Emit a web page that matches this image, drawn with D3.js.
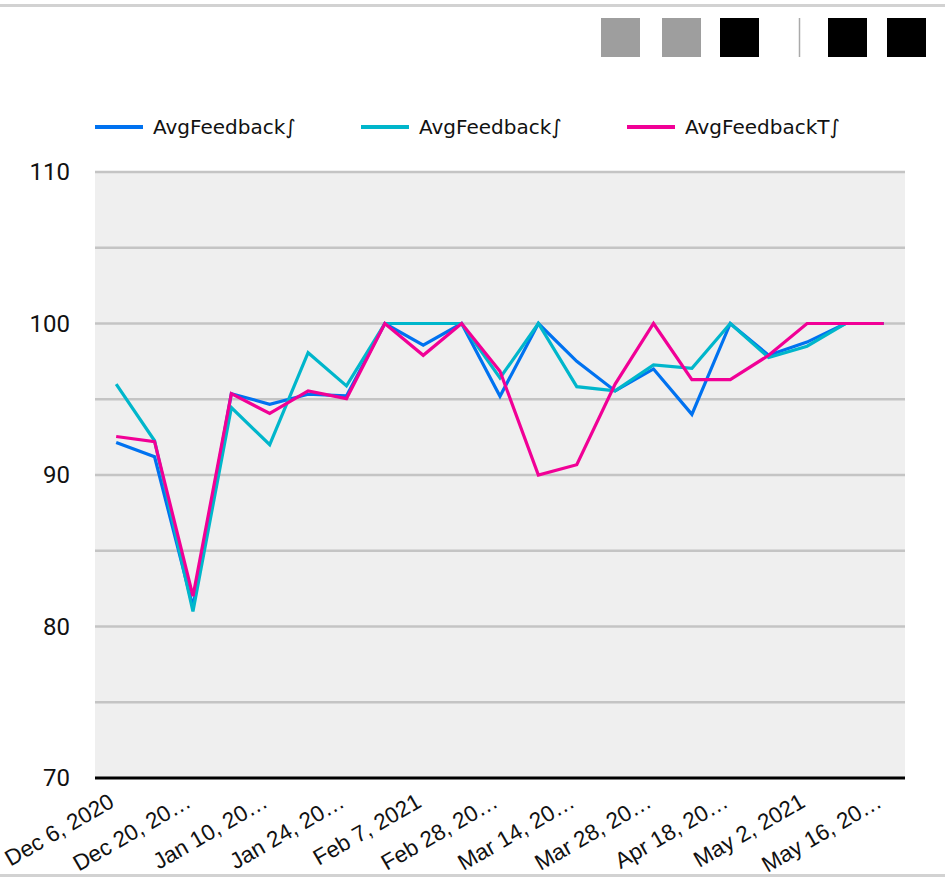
<!DOCTYPE html>
<html>
<head>
<meta charset="utf-8">
<script src="https://cdn.jsdelivr.net/npm/d3@7/dist/d3.min.js"></script>
<style>
  html, body { margin: 0; padding: 0; background: #fff; }
  svg { display: block; }
</style>
</head>
<body>
<svg id="chart" width="945" height="878"></svg>
<script>
// Weekly dates (one point per week with data)
const dates = [
  "Dec 6, 2020", "Dec 13, 2020", "Dec 20, 2020", "Jan 3, 2021", "Jan 10, 2021",
  "Jan 17, 2021", "Jan 24, 2021", "Jan 31, 2021", "Feb 7, 2021", "Feb 14, 2021",
  "Feb 28, 2021", "Mar 7, 2021", "Mar 14, 2021", "Mar 21, 2021", "Mar 28, 2021",
  "Apr 11, 2021", "Apr 18, 2021", "Apr 25, 2021", "May 2, 2021", "May 9, 2021",
  "May 16, 2021"
];

// Series values
const avgFeedbackA = [92.15, 91.2, 81.3, 95.37, 94.67, 95.33, 95.22, 100, 98.57, 100,
  95.2, 100, 97.5, 95.55, 97.0, 94.0, 100, 97.9, 98.77, 100, 100];
const avgFeedbackB = [96.0, 92.26, 81.0, 94.45, 92.0, 98.07, 95.88, 100, 100, 100,
  96.4, 100, 95.83, 95.55, 97.26, 97.04, 100, 97.76, 98.5, 100, 100];
const avgFeedbackT = [92.54, 92.2, 82.0, 95.37, 94.06, 95.55, 95.04, 100, 97.9, 100,
  96.85, 90.0, 90.68, 96.0, 100, 96.3, 96.3, 97.9, 100, 100, 100];

const seriesNames = ["AvgFeedback\u222B", "AvgFeedback\u222B", "AvgFeedbackT\u222B"];
const seriesColors = ["#0072f0", "#00b6cb", "#f10096"];

const yTicks = [70, 80, 90, 100, 110];
const yGrid = [75, 80, 85, 90, 95, 100, 105, 110];

const svg = d3.select("#chart");

// Frame lines
svg.append("rect").attr("x", 0).attr("y", 4).attr("width", 945).attr("height", 3).attr("fill", "#d2d2d2");
svg.append("rect").attr("x", 0).attr("y", 874).attr("width", 945).attr("height", 3).attr("fill", "#d2d2d2");

// Toolbar blocks
const tools = [
  { x: 601, c: "#9e9e9e" }, { x: 662, c: "#9e9e9e" }, { x: 720, c: "#000" },
  { x: 828, c: "#000" }, { x: 887, c: "#000" }
];
svg.selectAll("rect.tool").data(tools).join("rect")
  .attr("class", "tool")
  .attr("x", d => d.x).attr("y", 18).attr("width", 39).attr("height", 39)
  .attr("fill", d => d.c);
svg.append("line").attr("x1", 799.5).attr("x2", 799.5).attr("y1", 18).attr("y2", 57)
  .attr("stroke", "#aaa").attr("stroke-width", 1.5);

// Plot area
const plotL = 95, plotR = 905, plotT = 172, plotB = 778;
const x = d3.scalePoint().domain(d3.range(dates.length)).range([97, 903]).padding(0.5);
const y = d3.scaleLinear().domain([70, 110]).range([plotB, plotT]);

svg.append("rect").attr("x", plotL).attr("y", plotT).attr("width", plotR - plotL)
  .attr("height", plotB - plotT).attr("fill", "#efefef");

svg.append("g").selectAll("line").data(yGrid).join("line")
  .attr("x1", plotL).attr("x2", plotR)
  .attr("y1", d => y(d)).attr("y2", d => y(d))
  .attr("stroke", "#c4c4c4").attr("stroke-width", 2.5);

// Y axis labels
const yAxis = d3.axisLeft(y).tickValues(yTicks).tickSize(0).tickPadding(0);
const gy = svg.append("g").attr("transform", `translate(70,0)`).call(yAxis);
gy.select(".domain").remove();
gy.selectAll("text")
  .attr("font-family", "Roboto, sans-serif").attr("font-size", 24).attr("fill", "#111");

// X axis
const shortLabel = s => s.length > 11 ? s.slice(0, 10) + "\u2026" : s;
const xAxis = d3.axisBottom(x)
  .tickValues(d3.range(0, dates.length, 2))
  .tickFormat(i => shortLabel(dates[i]))
  .tickSize(0).tickPadding(0);
const gx = svg.append("g").attr("transform", `translate(0,${plotB})`).call(xAxis);
gx.select(".domain").remove();
gx.selectAll("text")
  .attr("font-family", "'Liberation Sans', Arial, sans-serif").attr("font-size", 22.5)
  .attr("fill", "#111")
  .attr("text-anchor", "end")
  .attr("dy", 0)
  .attr("transform", "translate(-1,28) rotate(-30)");

svg.append("line").attr("x1", plotL).attr("x2", plotR)
  .attr("y1", plotB).attr("y2", plotB)
  .attr("stroke", "#000").attr("stroke-width", 3);

// Series lines
const series = [avgFeedbackA, avgFeedbackB, avgFeedbackT];
const line = d3.line().x((d, i) => x(i)).y(d => y(d));
svg.append("g").selectAll("path").data(series).join("path")
  .attr("d", d => line(d))
  .attr("fill", "none")
  .attr("stroke", (d, i) => seriesColors[i])
  .attr("stroke-width", 3.2)
  .attr("stroke-linejoin", "miter");

// Legend
const legendX = [95, 361, 627];
const lg = svg.append("g").selectAll("g").data(seriesNames).join("g")
  .attr("transform", (d, i) => `translate(${legendX[i]},127)`);
lg.append("line").attr("x1", 0).attr("x2", 48).attr("y1", 0).attr("y2", 0)
  .attr("stroke", (d, i) => seriesColors[i]).attr("stroke-width", 4);
lg.append("text").attr("x", 58).attr("y", 0).attr("dy", "0.36em")
  .attr("font-family", "'DejaVu Sans', sans-serif").attr("font-size", 20)
  .attr("fill", "#111")
  .text(d => d);
</script>
</body>
</html>
